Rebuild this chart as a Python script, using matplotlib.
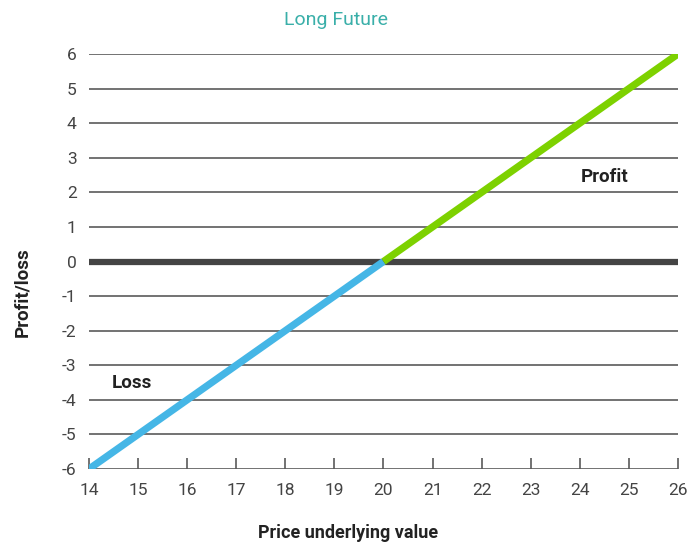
import matplotlib
matplotlib.use("Agg")
import matplotlib.pyplot as plt

plt.rcParams['font.family'] = ['Roboto', 'DejaVu Sans']

loss_price = [14, 20]
loss_pl = [-6, 0]
profit_price = [20, 26]
profit_pl = [0, 6]
x_ticks = list(range(14, 27))
y_ticks = list(range(-6, 7))

fig = plt.figure(figsize=(6.99, 5.45), dpi=100)
ax = fig.add_axes([89/699, 1-469/545, (678-89)/699, (469-54)/545])
ax.set_xlim(14, 26)
ax.set_ylim(-6, 6)

for y in y_ticks:
    if y == 0:
        continue
    ax.axhline(y, color='#5a5a5a', lw=1.2, zorder=1)
ax.axhline(0, color='#444444', lw=4.5, zorder=2)

ax.plot(loss_price, loss_pl, color='#45b6e6', lw=5.2, solid_capstyle='butt', zorder=3)
ax.plot(profit_price, profit_pl, color='#7dd100', lw=5.2, solid_capstyle='butt', zorder=3)

for s in ['top', 'right', 'left', 'bottom']:
    ax.spines[s].set_visible(False)

ax.set_xticks(x_ticks)
ax.set_yticks(y_ticks)
ax.set_xticklabels([str(v) for v in x_ticks])
ax.set_yticklabels([str(v) for v in y_ticks])
ax.tick_params(axis='x', direction='in', length=8, width=1.2, color='#5a5a5a',
               labelsize=12.5, labelcolor='#444444', pad=10)
ax.tick_params(axis='y', length=0, labelsize=12.5, labelcolor='#444444', pad=9)

ax.text(24.5, 2.45, 'Profit', fontsize=13.5, fontweight='bold', color='#222222',
        ha='center', va='center')
ax.text(14.88, -3.5, 'Loss', fontsize=13.5, fontweight='bold', color='#222222',
        ha='center', va='center')

fig.text(336/699, 1-20/545, 'Long Future', color='#3aafa9', fontsize=14,
         ha='center', va='center')
fig.text(22/699, 1-292/545, 'Profit/loss', rotation=90, fontsize=13.5,
         fontweight='bold', color='#222222', ha='center', va='center')
fig.text(348/699, 1-533/545, 'Price underlying value', fontsize=13,
         fontweight='bold', color='#222222', ha='center', va='center')

fig.savefig('out.png', dpi=100)
